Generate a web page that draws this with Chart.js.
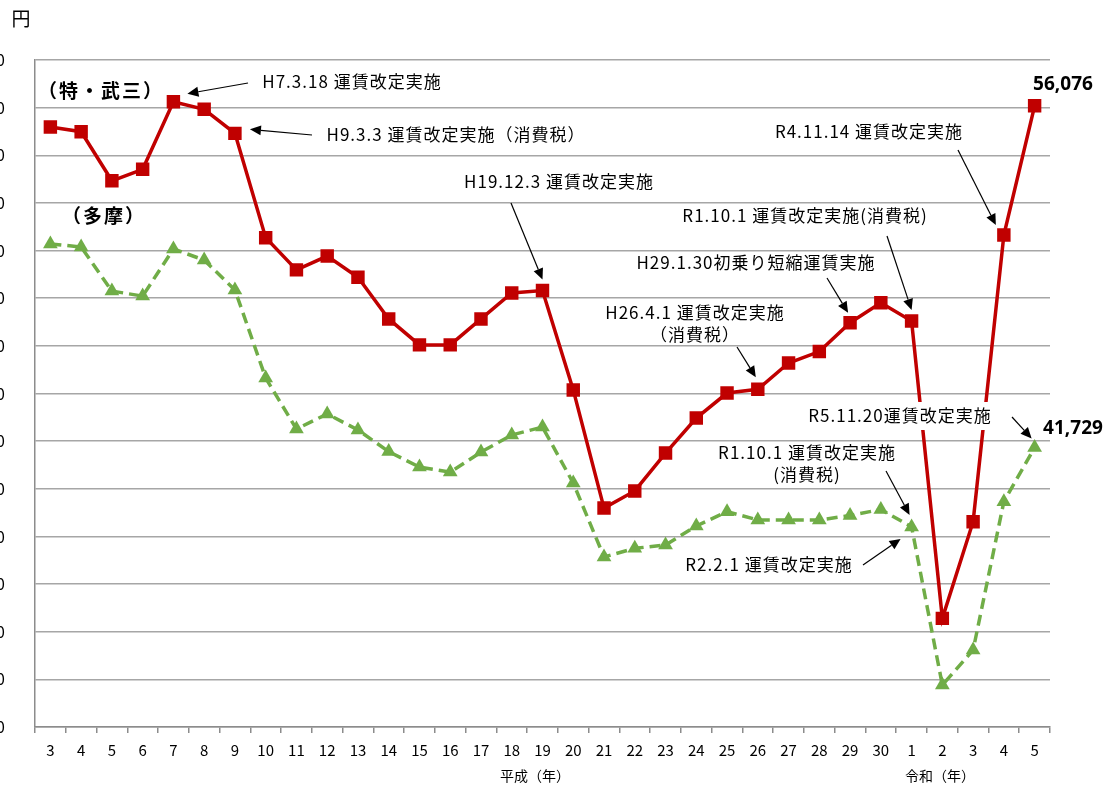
<!DOCTYPE html>
<html lang="ja">
<head>
<meta charset="utf-8">
<title>運賃の推移</title>
<script src="https://cdn.jsdelivr.net/npm/chart.js@4.4.1/dist/chart.umd.min.js"></script>
<style>
  html, body { margin: 0; padding: 0; background: #fff; overflow: hidden; }
  #wrap { position: relative; width: 1113px; height: 791px; }
</style>
</head>
<body>
<div id="wrap"><canvas id="grafico" width="1113" height="791"></canvas></div>
<script>
// 平成3年〜30年, 令和1年〜5年
const years = ['3','4','5','6','7','8','9','10','11','12','13','14','15','16','17','18','19','20',
  '21','22','23','24','25','26','27','28','29','30','1','2','3','4','5'];

// 特・武三 (円)
const tokuBusan = [55190, 54990, 52930, 53410, 56250, 55930, 54920, 50540, 49190, 49770, 48880,
  47130, 46040, 46040, 47130, 48220, 48320, 44150, 39190, 39910, 41500, 42970, 44020, 44180,
  45280, 45760, 46970, 47810, 47040, 34560, 38620, 50650, 56076];

// 多摩 (円)
const tama = [50280, 50150, 48300, 48090, 50070, 49600, 48350, 44650, 42510, 43140, 42470,
  41560, 40910, 40700, 41540, 42260, 42590, 40240, 37140, 37500, 37640, 38440, 39040, 38690,
  38690, 38690, 38880, 39130, 38400, 31760, 33230, 39460, 41729];

const yMin = 30000;
const yMax = 58000;
const yStep = 2000;

const RED = '#C00000';
const GREEN = '#70AD47';
const JP = "'Noto Sans CJK JP', 'Noto Sans', sans-serif";

// 注記: 文字の中心位置と矢印 (矢印の先はデータ点からのずれ)
const notes = [
  { lines: ['H7.3.18 運賃改定実施'], cx: 352, y: 82, tail: [248, 83], tip: { s: 0, i: 4, dx: 14, dy: -8 } },
  { lines: ['H9.3.3 運賃改定実施（消費税）'], cx: 456, y: 135, tail: [312, 135], tip: { s: 0, i: 6, dx: 15, dy: -4 } },
  { lines: ['H19.12.3 運賃改定実施'], cx: 559, y: 182, tail: [511, 203], tip: { s: 0, i: 16, dx: 0, dy: -11 } },
  { lines: ['R1.10.1 運賃改定実施(消費税)'], cx: 805, y: 216, tail: [887, 236], tip: { s: 0, i: 28, dx: 0, dy: -11 } },
  { lines: ['H29.1.30初乗り短縮運賃実施'], cx: 756, y: 263, tail: [827, 278], tip: { s: 0, i: 26, dx: -2, dy: -10 } },
  { lines: ['H26.4.1 運賃改定実施', '（消費税）'], cx: 695, y: 313, tail: [737, 347], tip: { s: 0, i: 23, dx: -2, dy: -12 } },
  { lines: ['R4.11.14 運賃改定実施'], cx: 869, y: 132, tail: [958, 150], tip: { s: 0, i: 31, dx: -8, dy: -10 } },
  { lines: ['R5.11.20運賃改定実施'], cx: 900, y: 416, box: true, tail: [1012, 417], tip: { s: 1, i: 32, dx: -3, dy: -9 } },
  { lines: ['R1.10.1 運賃改定実施', '(消費税)'], cx: 807, y: 453, tail: [886, 471], tip: { s: 1, i: 28, dx: -2, dy: -12 } },
  { lines: ['R2.2.1 運賃改定実施'], cx: 769, y: 565, tail: [863, 565], tip: { s: 1, i: 28, dx: -11, dy: 12 } }
];

function arrow(ctx, x1, y1, x2, y2) {
  const a = Math.atan2(y2 - y1, x2 - x1);
  const hl = 11, hw = 5;
  const bx = x2 - hl * Math.cos(a), by = y2 - hl * Math.sin(a);
  ctx.beginPath();
  ctx.moveTo(x1, y1);
  ctx.lineTo(bx, by);
  ctx.stroke();
  ctx.beginPath();
  ctx.moveTo(x2, y2);
  ctx.lineTo(bx + hw * Math.sin(a), by - hw * Math.cos(a));
  ctx.lineTo(bx - hw * Math.sin(a), by + hw * Math.cos(a));
  ctx.closePath();
  ctx.fill();
}

const notesPlugin = {
  id: 'notes',
  afterDatasetsDraw(chart) {
    const ctx = chart.ctx;
    const xs = chart.scales.x, ys = chart.scales.y;
    const series = [tokuBusan, tama];
    ctx.save();
    ctx.textAlign = 'center';
    ctx.textBaseline = 'middle';
    ctx.fillStyle = '#000';
    ctx.strokeStyle = '#000';
    ctx.lineWidth = 1.2;

    notes.forEach(n => {
      ctx.font = '17px ' + JP;
      ctx.letterSpacing = '1px';
      if (n.box) {
        const w = ctx.measureText(n.lines[0]).width;
        ctx.fillStyle = '#fff';
        ctx.fillRect(n.cx - w / 2 - 4, n.y - 14, w + 8, 28);
        ctx.fillStyle = '#000';
      }
      n.lines.forEach((t, k) => ctx.fillText(t, n.cx, n.y + k * 22));
      ctx.letterSpacing = '0px';
      const px = xs.getPixelForValue(n.tip.i) + n.tip.dx;
      const py = ys.getPixelForValue(series[n.tip.s][n.tip.i]) + n.tip.dy;
      arrow(ctx, n.tail[0], n.tail[1], px, py);
    });

    // 系列名と最新値
    ctx.font = 'bold 19px ' + JP;
    ctx.letterSpacing = '2px';
    ctx.fillText('（特・武三）', 101, 91);
    ctx.fillText('（多摩）', 104, 216);
    ctx.letterSpacing = '0px';
    ctx.font = "bold 19px 'Noto Sans', sans-serif";
    const last = tokuBusan.length - 1;
    ctx.fillText(tokuBusan[last].toLocaleString('en-US'), 1063, 85);
    ctx.fillText(tama[last].toLocaleString('en-US'), 1073, 429);

    // 単位と軸名
    ctx.font = '19px ' + JP;
    ctx.fillText('円', 21, 19);
    ctx.font = '14px ' + JP;
    ctx.fillText('平成（年）', 535, 776);
    ctx.fillText('令和（年）', 940, 776);
    ctx.restore();
  }
};

Chart.defaults.font.family = JP;
Chart.defaults.color = '#000';

new Chart(document.getElementById('grafico'), {
  type: 'line',
  data: {
    labels: years,
    datasets: [
      {
        label: '特・武三',
        data: tokuBusan,
        borderColor: RED,
        backgroundColor: RED,
        borderWidth: 3.5,
        pointStyle: 'rect',
        pointRadius: 9.5,
        pointBorderWidth: 0,
        tension: 0
      },
      {
        label: '多摩',
        data: tama,
        borderColor: GREEN,
        backgroundColor: GREEN,
        borderWidth: 3.5,
        borderDash: [11, 6],
        pointStyle: 'triangle',
        pointRadius: 8.5,
        pointBorderWidth: 0,
        tension: 0
      }
    ]
  },
  options: {
    responsive: false,
    animation: false,
    devicePixelRatio: 1,
    layout: { padding: { top: 60, right: 63, bottom: 0, left: 0 } },
    plugins: {
      legend: { display: false },
      tooltip: { enabled: false }
    },
    scales: {
      x: {
        type: 'category',
        offset: true,
        grid: {
          offset: true,
          drawOnChartArea: false,
          drawTicks: true,
          tickLength: 6,
          color: '#8c8c8c',
          lineWidth: 1.5
        },
        border: { color: '#8c8c8c', width: 1.5 },
        ticks: { padding: 8, autoSkip: false, maxRotation: 0, font: { size: 15 } },
        afterFit(scale) { scale.height = 64; }
      },
      y: {
        min: yMin,
        max: yMax,
        grid: { drawTicks: false, color: '#a6a6a6', lineWidth: 1.5 },
        border: { color: '#8c8c8c', width: 1.5 },
        ticks: {
          stepSize: yStep,
          padding: 30,
          font: { size: 16 },
          callback: v => v.toLocaleString('en-US')
        },
        afterFit(scale) { scale.width = 35; }
      }
    }
  },
  plugins: [notesPlugin]
});
</script>
</body>
</html>
